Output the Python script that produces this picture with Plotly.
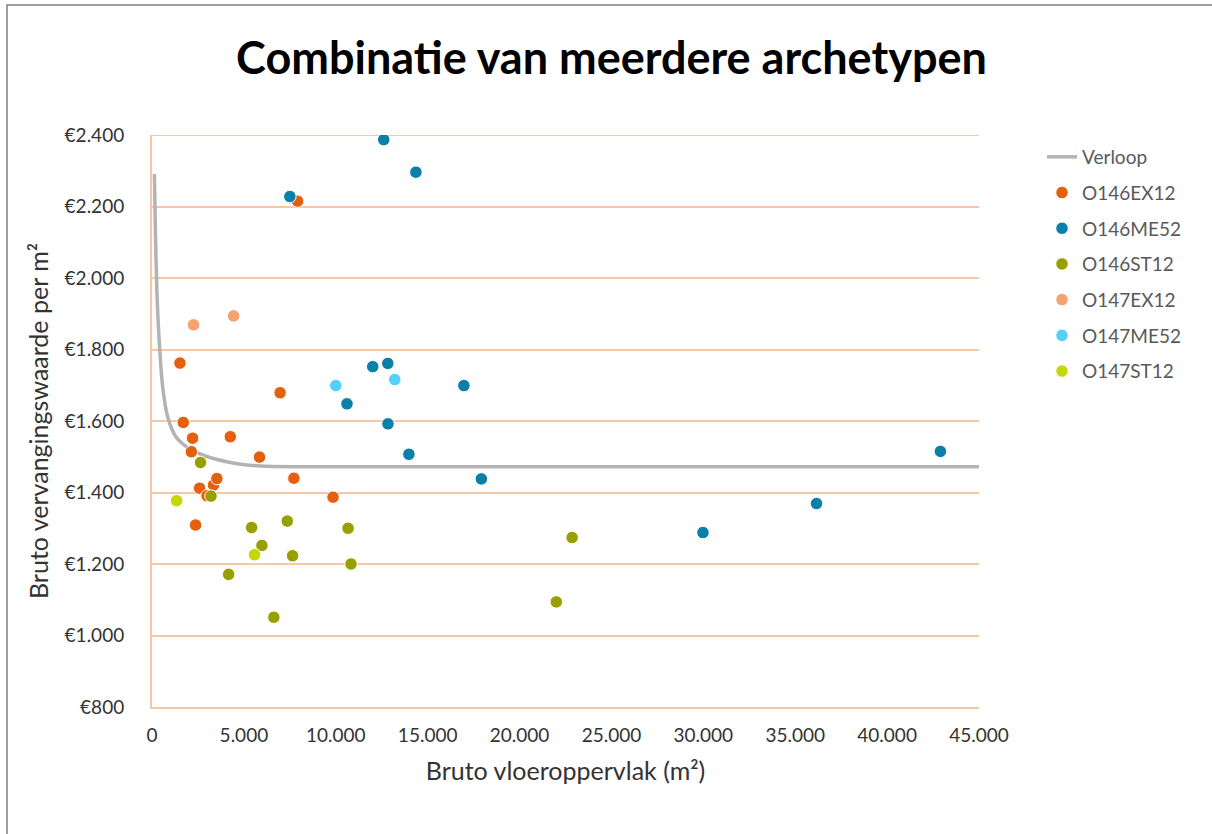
import plotly.graph_objects as go

# Verloop (trend curve)
verloop_x = [130, 180, 270, 400, 580, 850, 1300, 1940, 3030, 4480, 5920, 8000, 45000]
verloop_y = [2291, 2143, 1957, 1817, 1696, 1612, 1556, 1526, 1500, 1482, 1474, 1472, 1472]

o146ex12_x = [1520, 1700, 2140, 2210, 2370, 2590, 2990, 3350, 3530, 4260, 5850, 6970, 7720, 7920, 9850]
o146ex12_y = [1762, 1596, 1514, 1552, 1309, 1412, 1391, 1421, 1439, 1556, 1499, 1679, 1440, 2215, 1387]

o146me52_x = [7500, 10610, 12010, 12610, 12830, 12840, 13980, 14360, 16970, 17920, 29980, 36160, 42900]
o146me52_y = [2228, 1648, 1752, 2387, 1761, 1592, 1507, 2296, 1699, 1438, 1288, 1369, 1515]

o146st12_x = [2640, 3210, 4170, 5420, 5980, 6630, 7360, 7650, 10670, 10830, 22000, 22860]
o146st12_y = [1484, 1390, 1171, 1302, 1252, 1051, 1320, 1223, 1300, 1200, 1094, 1274]

o147ex12_x = [2260, 4440]
o147ex12_y = [1869, 1894]

o147me52_x = [10000, 13210]
o147me52_y = [1699, 1716]

o147st12_x = [1340, 5580]
o147st12_y = [1377, 1226]

y_ticks = [800, 1000, 1200, 1400, 1600, 1800, 2000, 2200, 2400]
y_ticklabels = ["€800", "€1.000", "€1.200", "€1.400", "€1.600", "€1.800", "€2.000", "€2.200", "€2.400"]
x_ticks = [0, 5000, 10000, 15000, 20000, 25000, 30000, 35000, 40000, 45000]
x_ticklabels = ["0", "5.000", "10.000", "15.000", "20.000", "25.000", "30.000", "35.000", "40.000", "45.000"]

series = [
    ("O146EX12", o146ex12_x, o146ex12_y, "#E4600F"),
    ("O146ME52", o146me52_x, o146me52_y, "#0A7FA8"),
    ("O146ST12", o146st12_x, o146st12_y, "#97A000"),
    ("O147EX12", o147ex12_x, o147ex12_y, "#F4A26F"),
    ("O147ME52", o147me52_x, o147me52_y, "#55D1F9"),
    ("O147ST12", o147st12_x, o147st12_y, "#C6D600"),
]

FONT = "Lato"
PEACH = "#F9C7A6"
TXT = "#333333"

fig = go.Figure()
fig.add_trace(go.Scatter(
    x=verloop_x, y=verloop_y, mode="lines", name="Verloop",
    line=dict(color="#B3B3B3", width=3.5, shape="spline", smoothing=0.7),
    legendgroup="g0",
))
for i, (name, xs, ys, col) in enumerate(series):
    fig.add_trace(go.Scatter(
        x=xs, y=ys, mode="markers", name=name, legendgroup=f"g{i+1}",
        marker=dict(color=col, size=12.5, line=dict(color="white", width=1)),
    ))

W, H = 1212, 834
L, R, T, B = 152, 233, 135, 127
pw = W - L - R
ph = H - T - B

fig.update_layout(
    width=W, height=H,
    margin=dict(l=L, r=R, t=T, b=B, autoexpand=False),
    paper_bgcolor="white", plot_bgcolor="white",
    font=dict(family=FONT, color=TXT, size=19),
    title=dict(text="<b>Combinatie van meerdere archetypen</b>",
               font=dict(family=FONT, size=45, color="black"),
               x=611.5 / W, xanchor="center", y=1 - 58 / H, yanchor="middle"),
    showlegend=True,
    legend=dict(x=(1042 - L) / pw, xanchor="left", y=1 - (138 - T) / ph, yanchor="top",
                font=dict(family=FONT, size=19, color="#595959"),
                tracegroupgap=8, bgcolor="rgba(0,0,0,0)"),
    xaxis=dict(range=[0, 45000], tickvals=x_ticks, ticktext=x_ticklabels,
               showgrid=False, zeroline=False, showline=True, linecolor=PEACH, linewidth=2,
               ticks="", ticklabelstandoff=10,
               tickfont=dict(family=FONT, size=19, color=TXT),
               title=dict(text="Bruto vloeroppervlak (m²)", standoff=18,
                          font=dict(family=FONT, size=25, color=TXT))),
    yaxis=dict(range=[800, 2400], tickvals=y_ticks, ticktext=y_ticklabels,
               showgrid=True, gridcolor=PEACH, gridwidth=2,
               zeroline=False, showline=True, linecolor=PEACH, linewidth=2,
               ticks="", ticklabelstandoff=22,
               tickfont=dict(family=FONT, size=19, color=TXT),
               title=dict(text="Bruto vervangingswaarde per m²", standoff=9,
                          font=dict(family=FONT, size=25, color=TXT))),
    shapes=[
        dict(type="rect", xref="paper", yref="paper",
             x0=(7 - L) / pw, x1=(W + 20 - L) / pw,
             y0=-(H + 20 - T - ph) / ph, y1=1 + (T - 5) / ph,
             line=dict(color="#7F7F7F", width=1.5), fillcolor="rgba(0,0,0,0)",
             layer="below"),
        dict(type="line", xref="x", yref="y", x0=0, x1=45000, y0=2400, y1=2400,
             line=dict(color=PEACH, width=2), layer="below"),
    ],
)

fig.write_html("out.html", config={"displayModeBar": False})
with open("out.html", "r", encoding="utf-8") as f:
    html = f.read()
html = html.replace("<head>", "<head><style>body{margin:0;padding:0;overflow:hidden;}</style>", 1)
with open("out.html", "w", encoding="utf-8") as f:
    f.write(html)
